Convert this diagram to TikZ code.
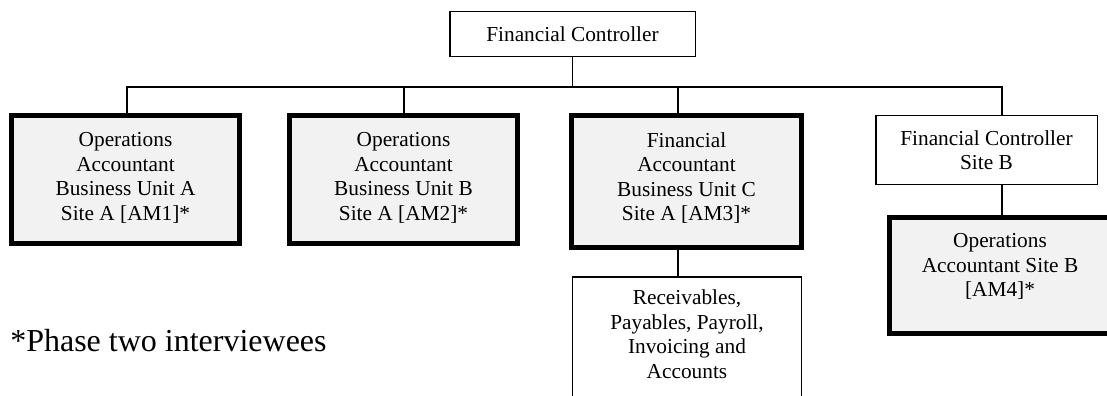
\documentclass[tikz,border=0pt]{standalone}
\usepackage{fontspec}
\setmainfont{Liberation Serif}
\usepackage{tikz}
\usepackage{xcolor}
\usetikzlibrary{positioning}

\definecolor{cellgray}{HTML}{F2F2F2}
\newcommand{\boxfont}{\fontsize{16}{18.4}\selectfont}
\newcommand{\padbelow}[1]{\rule[-#1]{0pt}{#1}}

\tikzset{
    unit/.style={draw, line width=1.1pt, align=center, font=\boxfont, inner sep=2pt},
    keyunit/.style={unit, line width=3.75pt, fill=cellgray},
    link/.style={line width=1pt}
}

\begin{document}
\begin{tikzpicture}[x=0.75pt, y=-0.75pt]
    \useasboundingbox (0, 0) rectangle (1107, 396);
    % top of the chart
    \node[unit, minimum width=184.1pt, minimum height=34.1pt] (fc) at (572.5, 34) {Financial Controller};
    % first level
    \node[keyunit, minimum width=171pt, minimum height=96pt] (am1) at (125.5, 179.5)
        {Operations\\Accountant\\Business Unit A\\Site A [AM1]*\padbelow{4.3pt}};
    \node[keyunit, minimum width=171pt, minimum height=96pt] (am2) at (403.5, 179.5)
        {Operations\\Accountant\\Business Unit B\\Site A [AM2]*\padbelow{4.3pt}};
    \node[keyunit, minimum width=172.5pt, minimum height=99pt] (am3) at (686.5, 181.5)
        {Financial\\Accountant\\Business Unit C\\Site A [AM3]*\padbelow{7.3pt}};
    \node[unit, minimum width=166.1pt, minimum height=51.4pt] (fcb) at (986.5, 150)
        {Financial Controller\\Site B};
    % second level
    \node[unit, minimum width=171.4pt, minimum height=95.4pt] (tasks) at (687, 340.4)
        {Receivables,\\Payables, Payroll,\\Invoicing and\\Accounts\padbelow{9.2pt}};
    \node[keyunit, minimum width=165.75pt, minimum height=87pt] (am4) at (1000, 275.5)
        {Operations\\Accountant Site B\\{[AM4]*}\padbelow{15.5pt}};
    % footnote
    \node[anchor=base west, inner sep=0pt, font=\fontsize{24}{28}\selectfont] (note) at (10, 351)
        {*Phase two interviewees};

    \coordinate (busA) at (127, 87);
    \coordinate (busB) at (404, 87);
    \coordinate (busC) at (678, 87);
    \coordinate (busD) at (1002, 87);
    \draw[link] (fc.south) -- (fc.south |- busA);
    \draw[link] (busA |- am1.north) -- (busA) -- (busD) -- (busD |- fcb.north);
    \draw[link] (busB) -- (busB |- am2.north);
    \draw[link] (busC) -- (busC |- am3.north);
    \draw[link] (busC |- am3.south) -- (busC |- tasks.north);
    \draw[link] (busD |- fcb.south) -- (busD |- am4.north);
\end{tikzpicture}
\end{document}
